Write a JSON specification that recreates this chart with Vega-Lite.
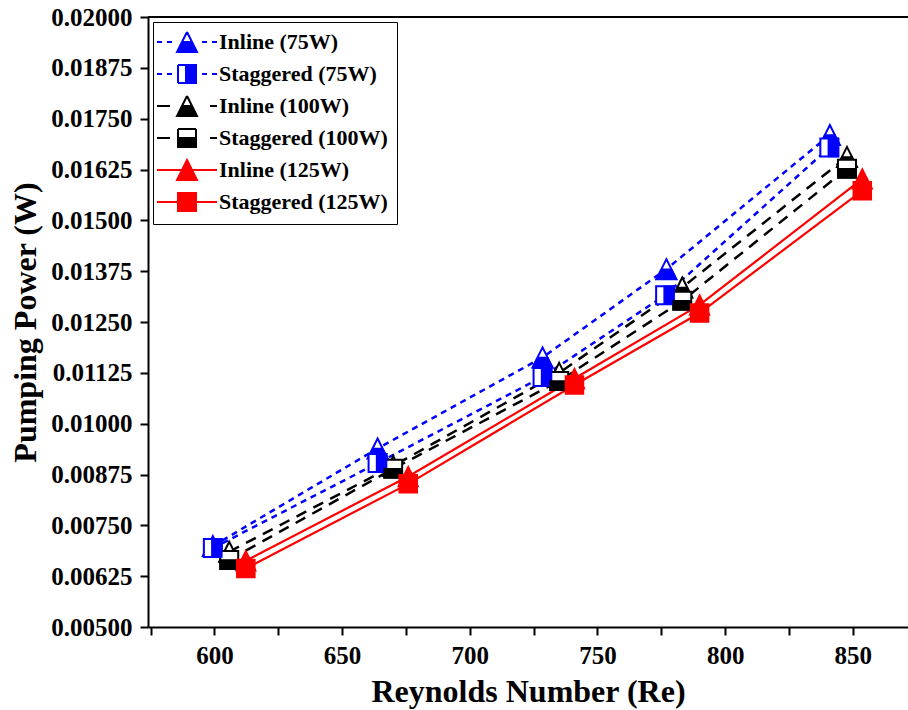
{
  "$schema": "https://vega.github.io/schema/vega-lite/v6.json",
  "width": 760,
  "height": 610,
  "autosize": {"type": "none"},
  "padding": {"left": 148, "top": 17, "right": 0, "bottom": 83},
  "background": "white",
  "config": {
    "view": {"stroke": null},
    "axis": {
      "grid": false,
      "domainColor": "black",
      "domainWidth": 2,
      "tickColor": "black",
      "tickWidth": 2,
      "tickSize": 8,
      "labelFont": "Liberation Serif",
      "labelFontWeight": "bold",
      "labelFontSize": 25,
      "labelColor": "black",
      "labelOverlap": false,
      "labelFlush": false,
      "labelBound": false,
      "titleFont": "Liberation Serif",
      "titleFontWeight": "bold",
      "titleFontSize": 32,
      "titleColor": "black"
    }
  },
  "data": {
    "values": [
      {"series": "Inline (75W)", "power": "75W", "re": 599.4, "pp": 0.00699},
      {"series": "Inline (75W)", "power": "75W", "re": 663.9, "pp": 0.00939},
      {"series": "Inline (75W)", "power": "75W", "re": 728.5, "pp": 0.01163},
      {"series": "Inline (75W)", "power": "75W", "re": 777.0, "pp": 0.0138},
      {"series": "Inline (75W)", "power": "75W", "re": 841.0, "pp": 0.0171},
      {"series": "Staggered (75W)", "power": "75W", "re": 599.4, "pp": 0.00694},
      {"series": "Staggered (75W)", "power": "75W", "re": 663.9, "pp": 0.00903},
      {"series": "Staggered (75W)", "power": "75W", "re": 728.5, "pp": 0.01115},
      {"series": "Staggered (75W)", "power": "75W", "re": 776.5, "pp": 0.01316},
      {"series": "Staggered (75W)", "power": "75W", "re": 840.8, "pp": 0.01679},
      {"series": "Inline (100W)", "power": "100W", "re": 605.8, "pp": 0.00685},
      {"series": "Inline (100W)", "power": "100W", "re": 670.0, "pp": 0.00896},
      {"series": "Inline (100W)", "power": "100W", "re": 735.0, "pp": 0.01125},
      {"series": "Inline (100W)", "power": "100W", "re": 783.2, "pp": 0.01335},
      {"series": "Inline (100W)", "power": "100W", "re": 847.7, "pp": 0.01656},
      {"series": "Staggered (100W)", "power": "100W", "re": 605.8, "pp": 0.00665},
      {"series": "Staggered (100W)", "power": "100W", "re": 670.0, "pp": 0.00889},
      {"series": "Staggered (100W)", "power": "100W", "re": 735.0, "pp": 0.01105},
      {"series": "Staggered (100W)", "power": "100W", "re": 783.2, "pp": 0.01302},
      {"series": "Staggered (100W)", "power": "100W", "re": 847.7, "pp": 0.01627},
      {"series": "Inline (125W)", "power": "125W", "re": 612.3, "pp": 0.00663},
      {"series": "Inline (125W)", "power": "125W", "re": 675.9, "pp": 0.0087},
      {"series": "Inline (125W)", "power": "125W", "re": 741.0, "pp": 0.01111},
      {"series": "Inline (125W)", "power": "125W", "re": 790.0, "pp": 0.01292},
      {"series": "Inline (125W)", "power": "125W", "re": 853.7, "pp": 0.01602},
      {"series": "Staggered (125W)", "power": "125W", "re": 612.3, "pp": 0.00644},
      {"series": "Staggered (125W)", "power": "125W", "re": 675.9, "pp": 0.00852},
      {"series": "Staggered (125W)", "power": "125W", "re": 741.0, "pp": 0.01095},
      {"series": "Staggered (125W)", "power": "125W", "re": 790.0, "pp": 0.01272},
      {"series": "Staggered (125W)", "power": "125W", "re": 853.7, "pp": 0.01573}
    ]
  },
  "layer": [
    {
      "transform": [{"filter": "false"}],
      "mark": {"type": "point", "filled": true, "opacity": 1, "size": 400, "strokeWidth": 2},
      "encoding": {
        "x": {
          "field": "re", "type": "quantitative",
          "scale": {"domain": [574, 871.6], "nice": false, "zero": false},
          "axis": {
            "title": "Reynolds Number (Re)",
            "values": [575, 600, 625, 650, 675, 700, 725, 750, 775, 800, 825, 850],
            "labelExpr": "datum.value % 50 == 0 ? datum.label : ''",
            "labelPadding": 8,
            "titlePadding": 8,
            "encode": {"ticks": {"update": {"y2": {"signal": "datum.value % 50 == 0 ? 8 : 5"}}}}
          }
        },
        "y": {
          "field": "pp", "type": "quantitative",
          "scale": {"domain": [0.005, 0.02], "nice": false, "zero": false},
          "axis": {
            "title": "Pumping Power (W)",
            "values": [0.005, 0.005625, 0.00625, 0.006875, 0.0075, 0.008125, 0.00875, 0.009375, 0.01, 0.010625, 0.01125, 0.011875, 0.0125, 0.013125, 0.01375, 0.014375, 0.015, 0.015625, 0.01625, 0.016875, 0.0175, 0.018125, 0.01875, 0.019375, 0.02],
            "labelExpr": "round(datum.value / 0.000625) % 2 == 0 ? format(datum.value, '.5f') : ''",
            "labelPadding": 8,
            "titlePadding": 8,
            "encode": {"ticks": {"update": {"x2": {"signal": "round(datum.value / 0.000625) % 2 == 0 ? -8 : -5"}}}}
          }
        },
        "shape": {
          "field": "series", "type": "nominal",
          "scale": {
            "domain": ["Inline (75W)", "Staggered (75W)", "Inline (100W)", "Staggered (100W)", "Inline (125W)", "Staggered (125W)"],
            "range": [
              "M-3,0H-2.5M-2,0H-1.5M1.5,0H2M2.5,0H3M0,-1L1,1M1,1L-1,1M-1,1L0,-1M-0.5,0L0.5,0L1,1L-1,1Z",
              "M-3,0H-2.5M-2,0H-1.5M1.5,0H2M2.5,0H3M-0.9,-0.9H0.9M0.9,-0.9V0.9M0.9,0.9H-0.9M-0.9,0.9V-0.9M-0.1,-0.9H0.9V0.9H-0.1Z",
              "M-3,0H-1.7M2.3,0H3M0,-1L1,1M1,1L-1,1M-1,1L0,-1M-0.5,0L0.5,0L1,1L-1,1Z",
              "M-3,0H-1.7M2.3,0H3M-0.9,-0.9H0.9M0.9,-0.9V0.9M0.9,0.9H-0.9M-0.9,0.9V-0.9M-0.9,0H0.9V0.9H-0.9Z",
              "M-3,0H3M0,-1L1,1L-1,1Z",
              "M-3,0H3M-0.9,-0.9H0.9V0.9H-0.9Z"
            ]
          },
          "legend": {
            "title": null, "orient": "top-left", "offset": 5, "padding": 9,
            "strokeColor": "black", "fillColor": "white",
            "labelFont": "Liberation Serif", "labelFontWeight": "bold", "labelFontSize": 22, "labelColor": "black", "labelLimit": 0,
            "symbolSize": 400, "symbolStrokeWidth": 2, "symbolOffset": 14, "labelOffset": 21, "rowPadding": 5,
            "encode": {"symbols": {"update": {
              "fill": {"scale": "fill", "field": "value"},
              "stroke": {"scale": "stroke", "field": "value"},
              "shape": {"scale": "shape", "field": "value"},
              "strokeWidth": {"value": 2},
              "size": {"value": 400},
              "opacity": {"value": 1},
              "strokeDash": {"value": []}
            }}}
          }
        },
        "fill": {
          "field": "series", "type": "nominal",
          "scale": {"domain": ["Inline (75W)", "Staggered (75W)", "Inline (100W)", "Staggered (100W)", "Inline (125W)", "Staggered (125W)"], "range": ["#0000ff", "#0000ff", "#000000", "#000000", "#ff0000", "#ff0000"]},
          "legend": {
            "title": null, "orient": "top-left", "offset": 5, "padding": 9,
            "strokeColor": "black", "fillColor": "white",
            "labelFont": "Liberation Serif", "labelFontWeight": "bold", "labelFontSize": 22, "labelColor": "black", "labelLimit": 0,
            "symbolSize": 400, "symbolStrokeWidth": 2, "symbolOffset": 14, "labelOffset": 21, "rowPadding": 5
          }
        },
        "stroke": {
          "field": "series", "type": "nominal",
          "scale": {"domain": ["Inline (75W)", "Staggered (75W)", "Inline (100W)", "Staggered (100W)", "Inline (125W)", "Staggered (125W)"], "range": ["#0000ff", "#0000ff", "#000000", "#000000", "#ff0000", "#ff0000"]},
          "legend": {
            "title": null, "orient": "top-left", "offset": 5, "padding": 9,
            "strokeColor": "black", "fillColor": "white",
            "labelFont": "Liberation Serif", "labelFontWeight": "bold", "labelFontSize": 22, "labelColor": "black", "labelLimit": 0,
            "symbolSize": 400, "symbolStrokeWidth": 2, "symbolOffset": 14, "labelOffset": 21, "rowPadding": 5
          }
        }
      }
    },
    {
      "data": {"values": [{"edge": "top"}]},
      "mark": {"type": "rule", "strokeWidth": 2, "color": "black"},
      "encoding": {"y": {"datum": 0.02, "type": "quantitative"}}
    },
    {
      "transform": [{"filter": "datum.power == '75W'"}],
      "mark": {"type": "line", "strokeWidth": 2.5, "strokeDash": [6, 5]},
      "encoding": {
        "x": {"field": "re", "type": "quantitative"},
        "y": {"field": "pp", "type": "quantitative"},
        "stroke": {"field": "series", "type": "nominal"}
      }
    },
    {
      "transform": [{"filter": "datum.power == '100W'"}],
      "mark": {"type": "line", "strokeWidth": 2.5, "strokeDash": [11, 8]},
      "encoding": {
        "x": {"field": "re", "type": "quantitative"},
        "y": {"field": "pp", "type": "quantitative"},
        "stroke": {"field": "series", "type": "nominal"}
      }
    },
    {
      "transform": [{"filter": "datum.power == '125W'"}],
      "mark": {"type": "line", "strokeWidth": 2.2},
      "encoding": {
        "x": {"field": "re", "type": "quantitative"},
        "y": {"field": "pp", "type": "quantitative"},
        "stroke": {"field": "series", "type": "nominal"}
      }
    },
    {
      "transform": [{"filter": "datum.series == 'Inline (75W)' || datum.series == 'Inline (100W)'"}],
      "mark": {"type": "point", "shape": "M0,-1L1,1L-1,1Z", "filled": true, "fill": "white", "opacity": 1, "size": 400, "strokeWidth": 2},
      "encoding": {
        "x": {"field": "re", "type": "quantitative"},
        "y": {"field": "pp", "type": "quantitative"},
        "stroke": {"field": "series", "type": "nominal"}
      }
    },
    {
      "transform": [{"filter": "datum.series == 'Inline (75W)' || datum.series == 'Inline (100W)'"}],
      "mark": {"type": "point", "shape": "M-0.5,0L0.5,0L1,1L-1,1Z", "filled": true, "opacity": 1, "size": 400, "strokeWidth": 1.5},
      "encoding": {
        "x": {"field": "re", "type": "quantitative"},
        "y": {"field": "pp", "type": "quantitative"},
        "fill": {"field": "series", "type": "nominal"},
        "stroke": {"field": "series", "type": "nominal"}
      }
    },
    {
      "transform": [{"filter": "datum.series == 'Inline (125W)'"}],
      "mark": {"type": "point", "shape": "M0,-1L1,1L-1,1Z", "filled": true, "opacity": 1, "size": 400, "strokeWidth": 1.5},
      "encoding": {
        "x": {"field": "re", "type": "quantitative"},
        "y": {"field": "pp", "type": "quantitative"},
        "fill": {"field": "series", "type": "nominal"},
        "stroke": {"field": "series", "type": "nominal"}
      }
    },
    {
      "transform": [{"filter": "datum.series == 'Staggered (75W)' || datum.series == 'Staggered (100W)'"}],
      "mark": {"type": "point", "shape": "M-0.9,-0.9H0.9V0.9H-0.9Z", "filled": true, "fill": "white", "opacity": 1, "size": 400, "strokeWidth": 2},
      "encoding": {
        "x": {"field": "re", "type": "quantitative"},
        "y": {"field": "pp", "type": "quantitative"},
        "stroke": {"field": "series", "type": "nominal"}
      }
    },
    {
      "transform": [{"filter": "datum.series == 'Staggered (75W)'"}],
      "mark": {"type": "point", "shape": "M-0.1,-0.9H0.9V0.9H-0.1Z", "filled": true, "opacity": 1, "size": 400, "strokeWidth": 1.5},
      "encoding": {
        "x": {"field": "re", "type": "quantitative"},
        "y": {"field": "pp", "type": "quantitative"},
        "fill": {"field": "series", "type": "nominal"},
        "stroke": {"field": "series", "type": "nominal"}
      }
    },
    {
      "transform": [{"filter": "datum.series == 'Staggered (100W)'"}],
      "mark": {"type": "point", "shape": "M-0.9,0H0.9V0.9H-0.9Z", "filled": true, "opacity": 1, "size": 400, "strokeWidth": 1.5},
      "encoding": {
        "x": {"field": "re", "type": "quantitative"},
        "y": {"field": "pp", "type": "quantitative"},
        "fill": {"field": "series", "type": "nominal"},
        "stroke": {"field": "series", "type": "nominal"}
      }
    },
    {
      "transform": [{"filter": "datum.series == 'Staggered (125W)'"}],
      "mark": {"type": "point", "shape": "M-0.9,-0.9H0.9V0.9H-0.9Z", "filled": true, "opacity": 1, "size": 400, "strokeWidth": 1.5},
      "encoding": {
        "x": {"field": "re", "type": "quantitative"},
        "y": {"field": "pp", "type": "quantitative"},
        "fill": {"field": "series", "type": "nominal"},
        "stroke": {"field": "series", "type": "nominal"}
      }
    }
  ]
}
